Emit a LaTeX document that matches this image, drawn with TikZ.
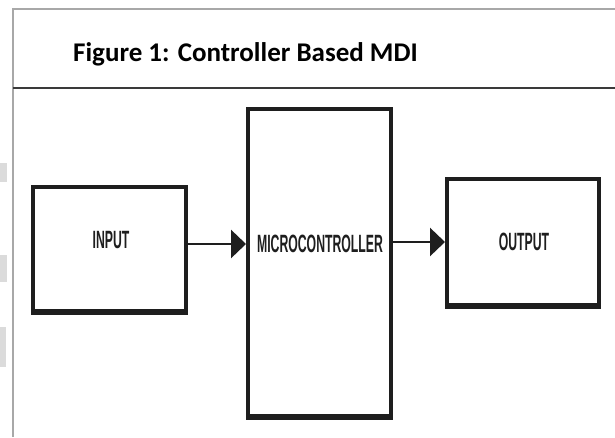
\documentclass[tikz,border=0pt]{standalone}
\usepackage{fontspec}
\setmainfont{Carlito}
\newfontfamily\boxfont{Liberation Sans}
\usetikzlibrary{arrows.meta}
\definecolor{boxline}{HTML}{1E1E1E}
\definecolor{frameline}{HTML}{A8A8A8}
\definecolor{rule}{HTML}{3A3A3A}
\tikzset{
  blockbox/.style={draw=boxline, line width=4pt, inner sep=0pt},
  blocklabel/.style={font=\boxfont\bfseries\fontsize{25}{26}\selectfont, text=boxline, inner sep=0pt},
  flow/.style={draw=boxline, line width=2.8pt, -{Triangle[length=15pt,width=28pt]}}
}
\newcommand{\squeeze}[1]{\scalebox{0.49}[1]{#1}}
\begin{document}
\begin{tikzpicture}[x=1pt,y=-1pt]
\useasboundingbox (0,0) rectangle (615,437);
% frame and title bar
\draw[frameline, line width=2pt] (13,437) -- (13,9) -- (615,9);
\draw[rule, line width=2pt] (13,88) -- (615,88);
\node[anchor=base west, font=\bfseries\fontsize{27}{30}\selectfont, inner sep=0pt] (title) at (73,61) {Figure 1: Controller Based MDI};
% faint marks at the left edge
\fill[black!14] (0,163) rectangle (7,182);
\fill[black!14] (0,255) rectangle (7,282);
\fill[black!14] (0,327) rectangle (6,367);
% blocks
\node[blockbox, minimum width=153pt, minimum height=124pt] (in) at (109.5,249) {};
\node[blockbox, minimum width=143pt, minimum height=307pt] (mcu) at (319.5,262.5) {};
\node[blockbox, minimum width=152pt, minimum height=126pt] (out) at (523,242) {};
% heavier lower edges
\draw[boxline, line width=2pt] ([yshift=-0.5pt]in.south west) -- ([yshift=-0.5pt]in.south east);
\draw[boxline, line width=2pt] ([yshift=-0.5pt]mcu.south west) -- ([yshift=-0.5pt]mcu.south east);
\draw[boxline, line width=2pt] ([yshift=-0.5pt]out.south west) -- ([yshift=-0.5pt]out.south east);
\node[blocklabel] (inlbl) at (111,240) {\squeeze{INPUT}};
\node[blocklabel] (mculbl) at (320,244) {\squeeze{MICROCONTROLLER}};
\node[blocklabel] (outlbl) at (524,242) {\squeeze{OUTPUT}};
% signal path
\draw[flow] (in.east |- 0,244) -- (mcu.west |- 0,244);
\draw[flow] (mcu.east |- 0,242) -- (out.west |- 0,242);
\end{tikzpicture}
\end{document}
